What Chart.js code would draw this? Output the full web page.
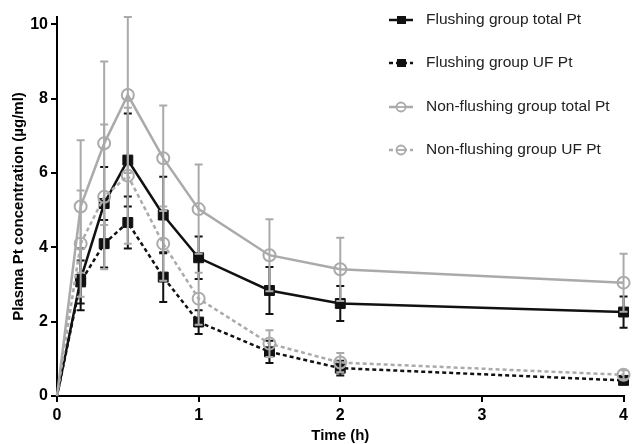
<!DOCTYPE html>
<html>
<head>
<meta charset="utf-8">
<script src="https://cdn.jsdelivr.net/npm/chart.js@4.4.0/dist/chart.umd.min.js"></script>
<style>
  html, body { margin: 0; padding: 0; background: #fff; }
  #wrap { width: 632px; height: 444px; }
</style>
</head>
<body>
<div id="wrap"><canvas id="line-chart"></canvas></div>
<script>
// time (h)
var timePoints = [0, 0.167, 0.333, 0.5, 0.75, 1, 1.5, 2, 4];

// means and SD
var flushTotal   = [0, 3.14, 5.18, 6.35, 4.87, 3.72, 2.84, 2.49, 2.26];
var flushTotalSd = [0, 0.83, 0.98, 1.25, 1.03, 0.57, 0.63, 0.47, 0.42];
var flushUf      = [0, 3.07, 4.10, 4.67, 3.20, 1.99, 1.19, 0.75, 0.42];
var flushUfSd    = [0, 0.58, 0.64, 0.70, 0.67, 0.32, 0.30, 0.20, 0.08];
var nonTotal     = [0, 5.10, 6.80, 8.10, 6.40, 5.03, 3.79, 3.41, 3.05];
var nonTotalSd   = [0, 1.78, 2.20, 2.10, 1.42, 1.20, 0.97, 0.85, 0.78];
var nonUf        = [0, 4.10, 5.36, 5.93, 4.10, 2.62, 1.41, 0.90, 0.57];
var nonUfSd      = [0, 1.43, 1.95, 1.83, 1.00, 0.70, 0.36, 0.26, 0.12];

var seriesLabels = ['Flushing group total Pt', 'Flushing group UF Pt',
                    'Non-flushing group total Pt', 'Non-flushing group UF Pt'];
var xTicks = [0, 1, 2, 3, 4];
var yTicks = [0, 2, 4, 6, 8, 10];

var BLACK = '#111111';
var GREY = '#aaaaaa';
var FONT = "'Liberation Sans', Arial, sans-serif";

function pts(vals) {
  return timePoints.map(function (t, i) { return { x: t, y: vals[i] }; });
}
function hideFirst(r) {
  return function (c) { return c.dataIndex === 0 ? 0 : r; };
}

// error bars drawn right after each dataset so grey ones sit on top of black
var errorBars = {
  id: 'errorBars',
  afterDatasetDraw: function (chart, args) {
    var ds = chart.data.datasets[args.index];
    if (!ds.sd) return;
    var ctx = chart.ctx, xs = chart.scales.x, ys = chart.scales.y;
    ctx.save();
    ctx.strokeStyle = ds.borderColor;
    ctx.lineWidth = 2;
    ctx.setLineDash([]);
    ds.data.forEach(function (p, i) {
      var e = ds.sd[i];
      if (!e) return;
      var x = xs.getPixelForValue(p.x);
      var yTop = ys.getPixelForValue(p.y + e);
      var yBot = ys.getPixelForValue(p.y - e);
      ctx.beginPath();
      ctx.moveTo(x, yTop); ctx.lineTo(x, yBot);
      ctx.moveTo(x - 4, yTop); ctx.lineTo(x + 4, yTop);
      ctx.moveTo(x - 4, yBot); ctx.lineTo(x + 4, yBot);
      ctx.stroke();
    });
    ctx.restore();
  }
};

// legend stacked at top right, like the original figure
var sideLegend = {
  id: 'sideLegend',
  afterDraw: function (chart) {
    var ctx = chart.ctx;
    var rows = [20, 63, 107, 150];
    ctx.save();
    chart.data.datasets.forEach(function (ds, i) {
      var y = rows[i];
      ctx.strokeStyle = ds.borderColor;
      ctx.lineWidth = 2.5;
      ctx.setLineDash(ds.borderDash || []);
      ctx.beginPath();
      ctx.moveTo(389, y); ctx.lineTo(413, y);
      ctx.stroke();
      ctx.setLineDash([]);
      if (ds.pointStyle === 'rect') {
        ctx.fillStyle = ds.borderColor;
        ctx.fillRect(397, y - 4, 9, 8);
      } else {
        ctx.lineWidth = 1.8;
        ctx.fillStyle = '#fff';
        ctx.beginPath();
        ctx.arc(401, y, 4.5, 0, Math.PI * 2);
        ctx.fill();
        ctx.stroke();
        ctx.beginPath();
        ctx.moveTo(397, y); ctx.lineTo(405, y);
        ctx.stroke();
      }
      ctx.fillStyle = '#222';
      ctx.font = '15.5px ' + FONT;
      ctx.textAlign = 'left';
      ctx.textBaseline = 'middle';
      ctx.fillText(ds.label, 426, y);
    });
    ctx.restore();
  }
};

new Chart(document.getElementById('line-chart'), {
  type: 'line',
  data: {
    datasets: [
      {
        label: seriesLabels[0], data: pts(flushTotal), sd: flushTotalSd,
        borderColor: BLACK, backgroundColor: BLACK, borderWidth: 2.5,
        pointStyle: 'rect', pointRadius: hideFirst(7), pointBorderWidth: 1,
        pointBackgroundColor: BLACK, order: 2
      },
      {
        label: seriesLabels[1], data: pts(flushUf), sd: flushUfSd,
        borderColor: BLACK, backgroundColor: BLACK, borderWidth: 2.5, borderDash: [4, 3],
        pointStyle: 'rect', pointRadius: hideFirst(7), pointBorderWidth: 1,
        pointBackgroundColor: BLACK, order: 2
      },
      {
        label: seriesLabels[2], data: pts(nonTotal), sd: nonTotalSd,
        borderColor: GREY, backgroundColor: 'transparent', borderWidth: 2.5,
        pointStyle: 'circle', pointRadius: hideFirst(6), pointBorderWidth: 2,
        pointBackgroundColor: 'transparent', order: 1
      },
      {
        label: seriesLabels[3], data: pts(nonUf), sd: nonUfSd,
        borderColor: GREY, backgroundColor: 'transparent', borderWidth: 2.5, borderDash: [4, 3],
        pointStyle: 'circle', pointRadius: hideFirst(6), pointBorderWidth: 2,
        pointBackgroundColor: 'transparent', order: 1
      }
    ]
  },
  options: {
    responsive: true,
    maintainAspectRatio: false,
    animation: false,
    clip: false,
    layout: { padding: { top: 17, right: 8, left: 0, bottom: 0 } },
    plugins: {
      legend: { display: false },
      tooltip: { enabled: false }
    },
    elements: { line: { tension: 0 } },
    scales: {
      x: {
        type: 'linear', min: 0, max: 4,
        afterBuildTicks: function (s) { s.ticks = xTicks.map(function (v) { return { value: v }; }); },
        afterFit: function (s) { s.height = 48; },
        border: { display: true, color: '#000', width: 2 },
        grid: { display: true, drawOnChartArea: false, drawTicks: true, tickLength: 6, color: '#000', lineWidth: 2 },
        ticks: { color: '#000', padding: 4, maxRotation: 0, font: { family: FONT, size: 16, weight: 'bold' } },
        title: {
          display: true, text: 'Time (h)', color: '#000',
          font: { family: FONT, size: 15, weight: 'bold' }, padding: { top: 0, bottom: -1 }
        }
      },
      y: {
        min: 0, max: 10.2,
        afterBuildTicks: function (s) { s.ticks = yTicks.map(function (v) { return { value: v }; }); },
        afterFit: function (s) { s.width = 57; },
        border: { display: true, color: '#000', width: 2 },
        grid: { display: true, drawOnChartArea: false, drawTicks: true, tickLength: 6, color: '#000', lineWidth: 2 },
        ticks: { color: '#000', padding: 3, font: { family: FONT, size: 16, weight: 'bold' } },
        title: {
          display: true, text: 'Plasma Pt concentration (µg/ml)', color: '#000',
          font: { family: FONT, size: 15, weight: 'bold' }, padding: { top: 10, bottom: 0 }
        }
      }
    }
  },
  plugins: [errorBars, sideLegend]
});
</script>
</body>
</html>
